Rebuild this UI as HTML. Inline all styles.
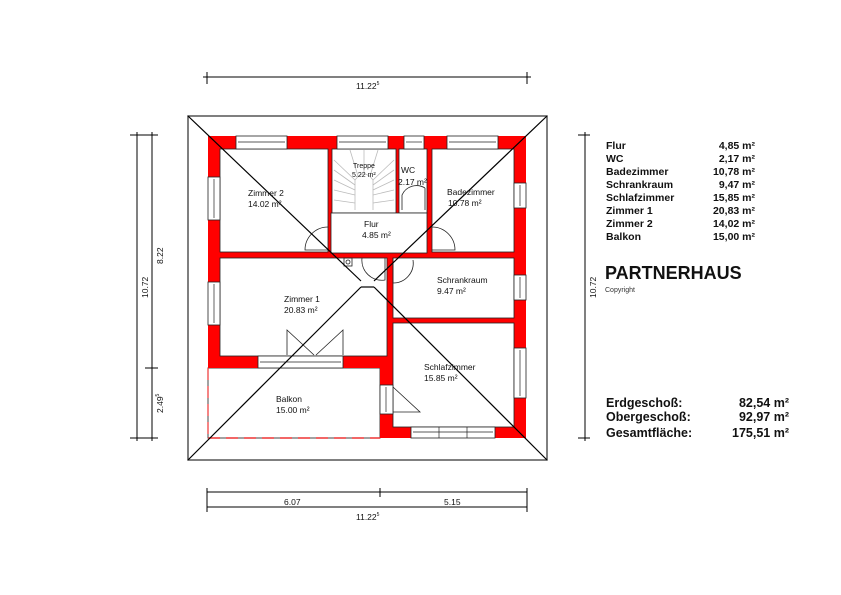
<!DOCTYPE html>
<html><head><meta charset="utf-8"><style>
html,body{margin:0;padding:0;background:#fff}
svg{display:block}
text{font-family:"Liberation Sans",Arial,sans-serif}
</style></head><body>
<svg width="841" height="595" viewBox="0 0 841 595" xmlns="http://www.w3.org/2000/svg">
<rect width="841" height="595" fill="#fff"/>
<!-- roof outline -->
<rect x="188" y="116" width="359" height="344" fill="none" stroke="#555" stroke-width="1.5"/>
<!-- balcony -->
<rect x="208" y="368" width="172" height="70" fill="#fff" stroke="#444" stroke-width="1"/>
<line x1="208" y1="438" x2="380" y2="438" stroke="#e33" stroke-width="1.5" stroke-dasharray="12,6"/>
<line x1="208" y1="368" x2="208" y2="438" stroke="#e33" stroke-width="1.2" stroke-dasharray="12,6"/>
<!-- walls -->
<g fill="#f00">
<rect x="208" y="136" width="12" height="232"/>
<rect x="208" y="136" width="318" height="13"/>
<rect x="514" y="136" width="12" height="302"/>
<rect x="380" y="427" width="146" height="11"/>
<rect x="208" y="356" width="185" height="12"/>
<rect x="380" y="356" width="13" height="82"/>
<rect x="220" y="252" width="294" height="6"/>
<rect x="328" y="149" width="4" height="104"/>
<rect x="396" y="149" width="3" height="64"/>
<rect x="427" y="149" width="5" height="104"/>
<rect x="387" y="258" width="6" height="98"/>
<rect x="393" y="318" width="121" height="5"/>
</g>
<!-- rooms interior outlines -->
<g fill="none" stroke="#222" stroke-width="0.8">
<rect x="220" y="149" width="108" height="103"/>
<rect x="332" y="149" width="64" height="64"/>
<rect x="399" y="149" width="28" height="64"/>
<rect x="432" y="149" width="82" height="103"/>
<rect x="331" y="213" width="96" height="40" fill="#fff"/>
<rect x="220" y="258" width="167" height="98"/>
<rect x="393" y="258" width="121" height="60"/>
<rect x="393" y="323" width="121" height="104"/>
</g>
<!-- stairs -->
<g stroke="#bbb" stroke-width="0.8" fill="none">
<path d="M355 210 V180 Q364 168 373 180 V210"/>
<line x1="334" y1="160" x2="355" y2="180"/><line x1="334" y1="170" x2="355" y2="185"/><line x1="334" y1="180" x2="355" y2="190"/><line x1="334" y1="190" x2="355" y2="195"/><line x1="334" y1="200" x2="355" y2="203"/>
<line x1="394" y1="160" x2="373" y2="180"/><line x1="394" y1="170" x2="373" y2="185"/><line x1="394" y1="180" x2="373" y2="190"/><line x1="394" y1="190" x2="373" y2="195"/><line x1="394" y1="200" x2="373" y2="203"/>
<line x1="350" y1="150" x2="358" y2="176"/><line x1="364" y1="150" x2="364" y2="172"/><line x1="378" y1="150" x2="370" y2="176"/>
</g>
<!-- windows -->
<g fill="#fff" stroke="#222" stroke-width="0.8">
<rect x="236" y="136" width="51" height="13"/><rect x="337" y="136" width="51" height="13"/><rect x="404" y="136" width="20" height="13"/><rect x="447" y="136" width="51" height="13"/>
<rect x="208" y="177" width="12" height="43"/><rect x="208" y="282" width="12" height="43"/>
<rect x="514" y="183" width="12" height="25"/><rect x="514" y="275" width="12" height="25"/><rect x="514" y="348" width="12" height="50"/>
<rect x="411" y="427" width="84" height="11"/>
<rect x="258" y="356" width="85" height="12"/>
<rect x="380" y="385" width="13" height="29"/>
</g>
<g stroke="#222" stroke-width="0.7">
<line x1="238" y1="142" x2="285" y2="142"/><line x1="339" y1="142" x2="386" y2="142"/><line x1="406" y1="142" x2="422" y2="142"/><line x1="449" y1="142" x2="496" y2="142"/>
<line x1="214" y1="179" x2="214" y2="218"/><line x1="214" y1="284" x2="214" y2="323"/>
<line x1="520" y1="185" x2="520" y2="206"/><line x1="520" y1="277" x2="520" y2="298"/><line x1="520" y1="350" x2="520" y2="396"/>
<line x1="413" y1="432" x2="493" y2="432"/><line x1="439" y1="427" x2="439" y2="438"/><line x1="467" y1="427" x2="467" y2="438"/>
<line x1="260" y1="362" x2="341" y2="362"/>
<line x1="386" y1="387" x2="386" y2="412"/>
</g>
<!-- doors -->
<g fill="none" stroke="#222" stroke-width="0.8">
<path d="M328 250 H305 A23 23 0 0 1 328 227"/>
<path d="M432 250 H455 A23 23 0 0 0 432 227"/>
<path d="M402 210 V195 A16 16 0 0 1 425 188 M425 188 V210"/>
<path d="M362 258 A20 20 0 0 0 385 280 V258"/>
<path d="M393 258 V283 A20 20 0 0 0 413 260"/>
<path d="M287 355 V330 L314 355 M343 355 V330 L316 355"/>
<path d="M393 387 L420 412 H393"/>
<rect x="344" y="258" width="8" height="8"/>
<circle cx="348" cy="262" r="2"/>
</g>
<!-- hip roof lines -->
<g stroke="#000" stroke-width="1.2">
<line x1="188" y1="116" x2="361" y2="281"/>
<line x1="547" y1="116" x2="374" y2="281"/>
<line x1="188" y1="460" x2="361" y2="287"/>
<line x1="547" y1="460" x2="374" y2="287"/>
<line x1="361" y1="287" x2="374" y2="287"/>
</g>
<!-- room labels -->
<g font-size="8.5" fill="#111">
<text x="248" y="196">Zimmer 2</text><text x="248" y="207">14.02 m²</text>
<text x="353" y="168" font-size="7">Treppe</text><text x="352" y="177" font-size="7">5.22 m²</text>
<text x="401" y="173">WC</text><text x="398" y="185">2.17 m²</text>
<text x="447" y="195">Badezimmer</text><text x="448" y="206">10.78 m²</text>
<text x="364" y="227">Flur</text><text x="362" y="238">4.85 m²</text>
<text x="284" y="302">Zimmer 1</text><text x="284" y="313">20.83 m²</text>
<text x="437" y="283">Schrankraum</text><text x="437" y="294">9.47 m²</text>
<text x="424" y="370">Schlafzimmer</text><text x="424" y="381">15.85 m²</text>
<text x="276" y="402">Balkon</text><text x="276" y="413">15.00 m²</text>
</g>
<!-- dimensions -->
<g stroke="#000" stroke-width="1">
<line x1="207" y1="77" x2="527" y2="77"/><line x1="207" y1="72" x2="207" y2="84"/><line x1="527" y1="72" x2="527" y2="84"/><line x1="203" y1="77" x2="211" y2="77"/><line x1="523" y1="77" x2="531" y2="77"/>
<line x1="137" y1="132" x2="137" y2="441"/><line x1="152" y1="132" x2="152" y2="441"/>
<line x1="130" y1="135" x2="158" y2="135"/><line x1="130" y1="438" x2="158" y2="438"/><line x1="145" y1="368" x2="158" y2="368"/>
<line x1="585" y1="132" x2="585" y2="441"/><line x1="578" y1="135" x2="590" y2="135"/><line x1="578" y1="438" x2="590" y2="438"/>
<line x1="207" y1="492" x2="527" y2="492"/><line x1="207" y1="507" x2="527" y2="507"/>
<line x1="207" y1="488" x2="207" y2="512"/><line x1="527" y1="488" x2="527" y2="512"/><line x1="380" y1="488" x2="380" y2="497"/>
</g>
<g font-size="8.5" fill="#111">
<text x="356" y="89">11.22<tspan font-size="5" dy="-4">5</tspan></text>
<text x="284" y="505">6.07</text><text x="444" y="505">5.15</text>
<text x="356" y="520">11.22<tspan font-size="5" dy="-4">5</tspan></text>
<text transform="translate(148,298) rotate(-90)">10.72</text>
<text transform="translate(163,264) rotate(-90)">8.22</text>
<text transform="translate(163,413) rotate(-90)">2.49<tspan font-size="5" dy="-4">5</tspan></text>
<text transform="translate(596,298) rotate(-90)">10.72</text>
</g>
<!-- area table -->
<g font-size="10.5" font-weight="bold" fill="#111">
<text x="606" y="149">Flur</text><text x="755" y="149" text-anchor="end">4,85 m²</text>
<text x="606" y="162">WC</text><text x="755" y="162" text-anchor="end">2,17 m²</text>
<text x="606" y="175">Badezimmer</text><text x="755" y="175" text-anchor="end">10,78 m²</text>
<text x="606" y="188">Schrankraum</text><text x="755" y="188" text-anchor="end">9,47 m²</text>
<text x="606" y="201">Schlafzimmer</text><text x="755" y="201" text-anchor="end">15,85 m²</text>
<text x="606" y="214">Zimmer 1</text><text x="755" y="214" text-anchor="end">20,83 m²</text>
<text x="606" y="227">Zimmer 2</text><text x="755" y="227" text-anchor="end">14,02 m²</text>
<text x="606" y="240">Balkon</text><text x="755" y="240" text-anchor="end">15,00 m²</text>
</g>
<text x="605" y="279" font-size="18" font-weight="bold" fill="#111">PARTNERHAUS</text>
<text x="605" y="292" font-size="7" fill="#333">Copyright</text>
<g font-size="12.5" font-weight="bold" fill="#111">
<text x="606" y="407">Erdgeschoß:</text><text x="789" y="407" text-anchor="end">82,54 m²</text>
<text x="606" y="421">Obergeschoß:</text><text x="789" y="421" text-anchor="end">92,97 m²</text>
<text x="606" y="437">Gesamtfläche:</text><text x="789" y="437" text-anchor="end">175,51 m²</text>
</g>
</svg>
</body></html>
